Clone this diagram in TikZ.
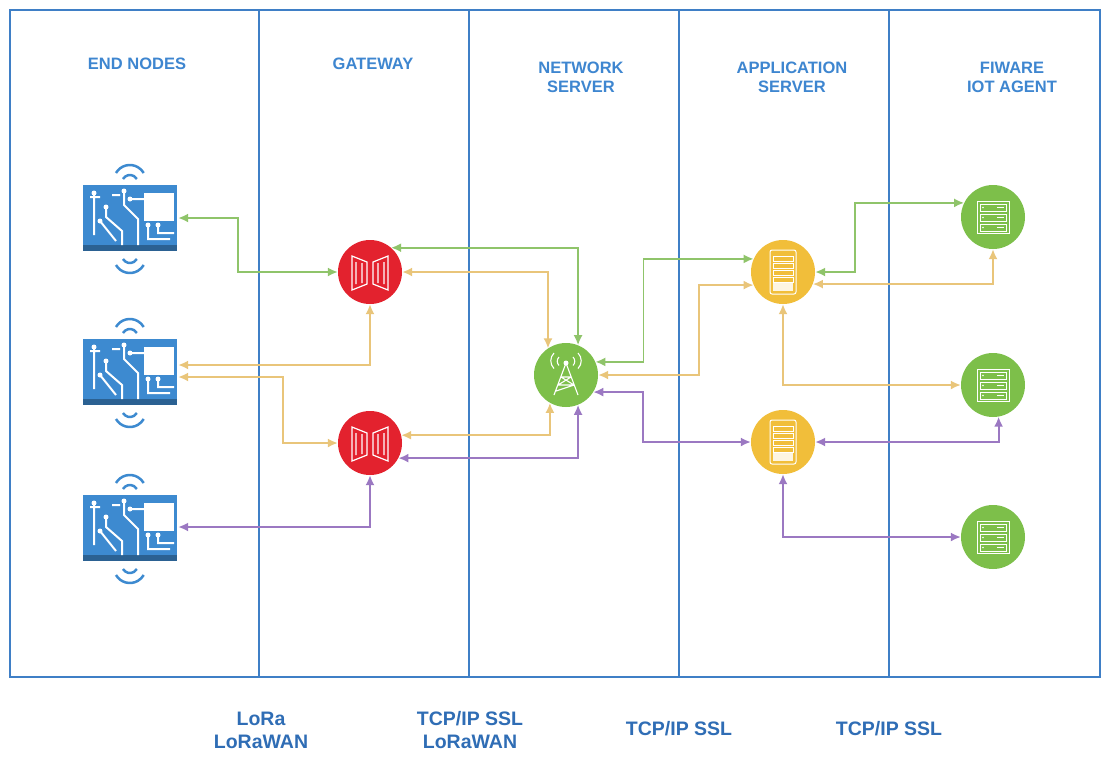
\documentclass[tikz,border=0pt]{standalone}
\usepackage{fontspec}
\setmainfont{Liberation Sans}
\usetikzlibrary{arrows.meta}
\definecolor{frame}{HTML}{3F7FC6}
\definecolor{head}{HTML}{3E86D0}
\definecolor{foot}{HTML}{2F6DB5}
\definecolor{gr}{HTML}{7DBF4A}
\definecolor{grl}{HTML}{8FC46A}
\definecolor{ye}{HTML}{F1BE3A}
\definecolor{yel}{HTML}{E9C57A}
\definecolor{pu}{HTML}{9B78C2}
\definecolor{rd}{HTML}{E3222E}
\definecolor{ic}{HTML}{3D8AD0}
\newcommand{\nodeicon}[1]{\begin{scope}[shift={(#1)}]
 \fill[ic] (-47,-32) rectangle (47,30);
 \fill[ic!70!black] (-47,28) rectangle (47,34);
 \fill[white] (14,-24) rectangle (44,4);
 \draw[white,line width=2pt] (-36,-24)--(-36,18) (-24,-10)--(-24,0)--(-8,14)--(-8,28) (-30,4)--(-14,24)
   (-6,-26)--(-6,-12)--(8,2)--(8,28) (0,-18)--(14,-18) (18,8)--(18,22)--(40,22) (28,8)--(28,16)--(44,16)
   (-40,-20)--(-30,-20) (-18,-22)--(-10,-22);
 \foreach \p in {(-24,-10),(-30,4),(-6,-26),(0,-18),(18,8),(28,8),(-36,-24)} \fill[white] \p circle (2.5);
 \draw[ic,line width=2.5pt] (-7,-38) arc (210:330:8) (-14,-44) arc (210:330:16);
 \draw[ic,line width=2.5pt] (-7,42) arc (150:30:8) (-14,48) arc (150:30:16);
\end{scope}}
\newcommand{\gateicon}[1]{\begin{scope}[shift={(#1)},white,line width=1.2pt]
 \draw (-18,-16)--(-3,-10)--(-3,12)--(-18,18)--cycle (-14,-10)--(-14,12) (-8,-9)--(-8,11);
 \draw (18,-16)--(3,-10)--(3,12)--(18,18)--cycle (14,-10)--(14,12) (8,-9)--(8,11);
\end{scope}}
\newcommand{\towericon}[1]{\begin{scope}[shift={(#1)},white,line width=1.1pt]
 \draw (0,-12)--(-12,20) (0,-12)--(12,20) (-8,10)--(8,10) (-5,2)--(5,2) (-8,10)--(5,2) (8,10)--(-5,2) (-10,16)--(8,10);
 \fill (0,-12) circle (2.5);
 \draw (-7,-18) arc (225:135:6) (7,-18) arc (-45:45:6) (-12,-22) arc (225:135:11) (12,-22) arc (-45:45:11);
\end{scope}}
\newcommand{\srvicon}[1]{\begin{scope}[shift={(#1)},white,line width=1pt]
 \draw[rounded corners=2] (-13,-22) rectangle (13,22);
 \foreach \y in {-16,-9,-2,5} \draw (-10,\y) rectangle (10,\y+5);
 \fill[white!85!ye] (-10,11) rectangle (10,19);
\end{scope}}
\newcommand{\rackicon}[1]{\begin{scope}[shift={(#1)},white,line width=1pt]
 \draw (-16,-16) rectangle (16,16);
 \foreach \y in {-13,-3,7} {\draw (-13,\y) rectangle (13,\y+7); \draw[line width=1.6pt] (4,\y+3.5)--(11,\y+3.5); \fill (-10,\y+3.5) circle (0.8);}
\end{scope}}
\begin{document}
\begin{tikzpicture}[x=1pt,y=-1pt,
 hd/.style={text=head,font=\bfseries\fontsize{16.5}{19}\selectfont,align=center},
 ft/.style={text=foot,font=\bfseries\fontsize{19.5}{23}\selectfont,align=center},
 circ/.style={circle,minimum size=64pt,inner sep=0pt,fill=#1},
 ln/.style={draw=#1,line width=1.8pt,{Latex[length=10pt,width=9pt]}-{Latex[length=10pt,width=9pt]}}]
\useasboundingbox (0,0) rectangle (1114,772);
\fill[white] (0,0) rectangle (1114,772);
\draw[frame,line width=2pt] (10,10) rectangle (1100,677);
\foreach \x in {259,469,679,889} \draw[frame,line width=2pt] (\x,10)--(\x,677);
\node[hd] (h1) at (137,64) {END NODES};
\node[hd] (h2) at (373,64) {GATEWAY};
\node[hd] (h3) at (581,77) {NETWORK\\SERVER};
\node[hd] (h4) at (792,77) {APPLICATION\\SERVER};
\node[hd] (h5) at (1012,77) {FIWARE\\IOT AGENT};
\node[ft] (b1) at (261,730) {LoRa\\LoRaWAN};
\node[ft] (b2) at (470,730) {TCP/IP SSL\\LoRaWAN};
\node[ft] (b3) at (679,729) {TCP/IP SSL};
\node[ft] (b4) at (889,729) {TCP/IP SSL};
\node[minimum width=96pt,minimum height=66pt,inner sep=0pt] (e1) at (130,217) {};
\node[minimum width=96pt,minimum height=66pt,inner sep=0pt] (e2) at (130,371) {};
\node[minimum width=96pt,minimum height=66pt,inner sep=0pt] (e3) at (130,527) {};
\nodeicon{130,217}\nodeicon{130,371}\nodeicon{130,527}
\node[circ=rd] (g1) at (370,272) {};
\node[circ=rd] (g2) at (370,443) {};
\gateicon{370,272}\gateicon{370,443}
\node[circ=gr] (n) at (566,375) {};
\towericon{566,375}
\node[circ=ye] (a1) at (783,272) {};
\node[circ=ye] (a2) at (783,442) {};
\srvicon{783,272}\srvicon{783,442}
\node[circ=gr] (f1) at (993,217) {};
\node[circ=gr] (f2) at (993,385) {};
\node[circ=gr] (f3) at (993,537) {};
\rackicon{993,217}\rackicon{993,385}\rackicon{993,537}
% gateway side
\draw[ln=grl] ([yshift=-1]e1.east) -- ++(60,0) |- (g1.west);
\draw[ln=grl] (g1.49) -| (n.68);
\draw[ln=yel] (g1.east) -| (n.124);
\draw[ln=yel] ([yshift=6]e2.east) -| (g1.south);
\draw[ln=yel] ([yshift=-6]e2.east) -- ++(105,0) |- (g2.west);
\draw[ln=yel] (g2.14) -| (n.-120);
\draw[ln=pu] (g2.-28) -| (n.-68);
\draw[ln=pu] (e3.east) -| (g2.south);
% server side
\draw[ln=grl] (n.24) -- ++(48,0) |- (a1.156);
\draw[ln=yel] (n.east) -- ++(101,0) |- (a1.204);
\draw[ln=pu] (n.-32) -- ++(50,0) |- (a2.west);
\draw[ln=grl] (a1.east) -- ++(40,0) |- (f1.154);
\draw[ln=yel] (a1.-22) -| (f1.south);
\draw[ln=yel] (a1.south) |- (f2.west);
\draw[ln=pu] (a2.east) -| (f2.-80);
\draw[ln=pu] (a2.south) |- (f3.west);
\end{tikzpicture}
\end{document}
